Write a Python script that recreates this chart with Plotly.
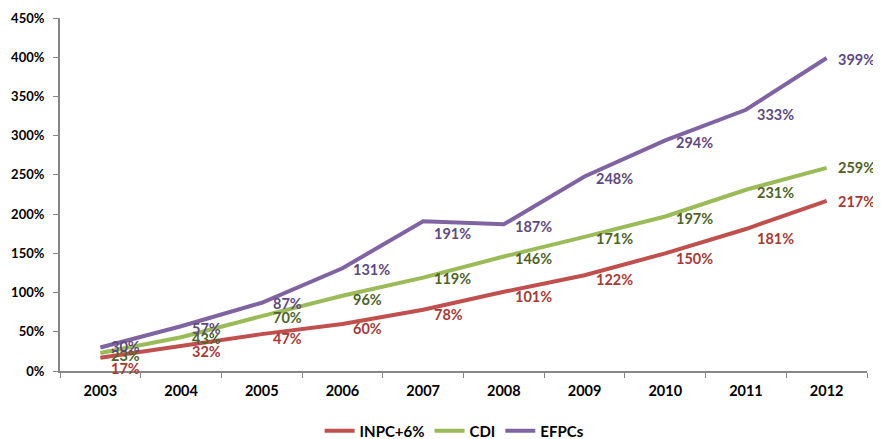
import plotly.graph_objects as go

years = ["2003", "2004", "2005", "2006", "2007", "2008", "2009", "2010", "2011", "2012"]
inpc = [17, 32, 47, 60, 78, 101, 122, 150, 181, 217]
cdi = [23, 43, 70, 96, 119, 146, 171, 197, 231, 259]
efpcs = [30, 57, 87, 131, 191, 187, 248, 294, 333, 399]
y_ticks = [0, 50, 100, 150, 200, 250, 300, 350, 400, 450]

series = [
    ("INPC+6%", inpc, "#C0504D", "#A43B38", [-11, -6, -4, -5, -5, -5, -4, -5, -9, -1]),
    ("CDI", cdi, "#9BBB59", "#4F6228", [-3, -1, -1, -4, -1, -2, -2, -2, -3, 0]),
    ("EFPCs", efpcs, "#8064A2", "#5F4A7E", [1, -2, -1, -1, -12, -2, -2, -2, -5, -1]),
]

FONT = "Lato"
fig = go.Figure()
annotations = []
for name, vals, color, lab_color, yshifts in series:
    fig.add_trace(go.Scatter(
        x=years, y=vals, name=name, mode="lines",
        line=dict(color=color, width=4),
    ))
    for i, (yv, ys) in enumerate(zip(vals, yshifts)):
        annotations.append(dict(
            x=i, y=yv, xref="x", yref="y", text=f"<b>{yv}%</b>", showarrow=False,
            xanchor="left", yanchor="middle", xshift=9, yshift=ys,
            font=dict(family=FONT, size=14.5, color=lab_color),
        ))

fig.update_layout(
    width=873, height=431,
    margin=dict(l=52, r=14, t=10, b=68, autoexpand=False),
    paper_bgcolor="white", plot_bgcolor="white",
    font=dict(family=FONT, size=12, color="#000000"),
    showlegend=True,
    legend=dict(
        orientation="h", x=0.489, xanchor="center", y=-0.17, yanchor="middle",
        font=dict(family=FONT, size=15, color="#000000", weight="bold"),
    ),
    annotations=annotations,
    xaxis=dict(
        type="category", categoryorder="array", categoryarray=years,
        range=[-0.5, 9.5], tickson="boundaries", ticks="outside", ticklen=5,
        tickangle=0, ticklabelstandoff=6,
        tickcolor="#868686", showline=True, linecolor="#868686", linewidth=2,
        showgrid=False, zeroline=False,
        tickfont=dict(family=FONT, size=14.5, color="#000000", weight="bold"),
    ),
    yaxis=dict(
        range=[0, 450], tickvals=y_ticks, ticktext=[f"{v}%" for v in y_ticks],
        ticks="outside", ticklen=5, tickcolor="#868686", ticklabelstandoff=6,
        showline=True, linecolor="#868686", linewidth=2,
        showgrid=False, zeroline=False,
        tickfont=dict(family=FONT, size=13, color="#000000", weight="bold"),
    ),
)

fig.write_html("out.html")
